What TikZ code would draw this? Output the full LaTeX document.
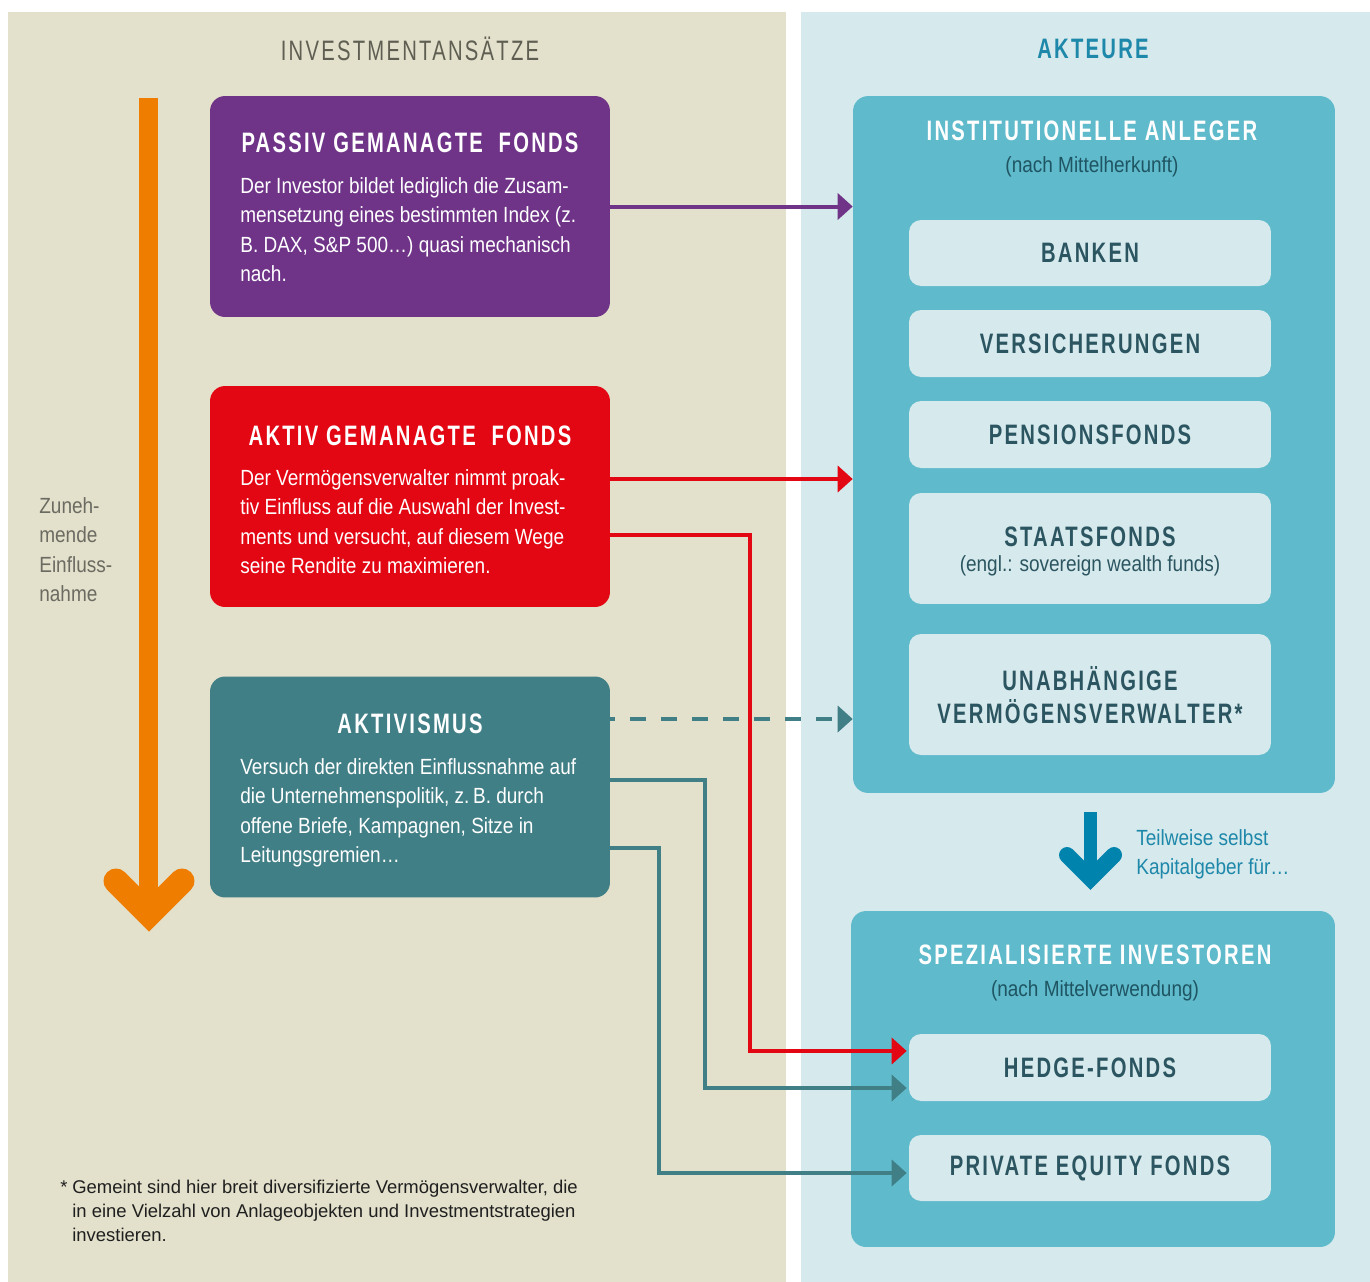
\documentclass[tikz,border=0pt]{standalone}
\usepackage{fontspec}
\setmainfont{Liberation Sans}[FakeStretch=0.865]
\newfontfamily\headfont{Liberation Sans}[FakeStretch=0.72,LetterSpace=8]
\newfontfamily\notefont{Liberation Sans}[FakeStretch=1.0]
\usetikzlibrary{arrows.meta}

\definecolor{beige}{HTML}{E3E0CB}
\definecolor{lightbg}{HTML}{D6E9EC}
\definecolor{instblue}{HTML}{5FBACB}
\definecolor{passivc}{HTML}{6F3488}
\definecolor{aktivc}{HTML}{E30613}
\definecolor{tealc}{HTML}{417F86}
\definecolor{orangeA}{HTML}{EF7D00}
\definecolor{arrowblue}{HTML}{0083AD}
\definecolor{textblue}{HTML}{1E88AA}
\definecolor{headgray}{HTML}{5E5E52}
\definecolor{sidegray}{HTML}{6B6B62}
\definecolor{innertext}{HTML}{2B5560}
\definecolor{subtext}{HTML}{1F5563}

\tikzset{
  fbox/.style={rounded corners=0.3cm, minimum width=8cm, minimum height=4.42cm, inner sep=0pt},
  abox/.style={fill=instblue, rounded corners=0.3cm, inner sep=0pt},
  ibox/.style={fill=lightbg, rounded corners=0.24cm, minimum width=7.24cm, inner sep=0pt,
    text=innertext, font=\headfont\bfseries\fontsize{16}{18}\selectfont},
  title/.style={font=\headfont\fontsize{16}{18}\selectfont, inner sep=0pt},
  head/.style={font=\headfont\bfseries\fontsize{16}{18}\selectfont, text=white, inner sep=0pt},
  ihead/.style={head, text=innertext},
  sub/.style={font=\fontsize{12.5}{16.8}\selectfont, text=subtext, inner sep=0pt},
  body/.style={font=\fontsize{12.5}{16.8}\selectfont, text=white, align=left,
    anchor=north west, inner sep=0pt},
  side/.style={body, text=sidegray},
  note/.style={font=\notefont\fontsize{10.5}{13.6}\selectfont, align=left, anchor=north west,
    inner sep=0pt, text=black!88},
  link/.style={line width=0.08cm, -{Triangle[length=0.3cm,width=0.52cm]}},
}

\begin{document}
\begin{tikzpicture}[x=0.02cm,y=-0.02cm]
% panels
\fill[white] (0,0) rectangle (1370,1282);
\fill[beige] (8,12) rectangle (786,1282);
\fill[lightbg] (801,12) rectangle (1370,1282);

\node[title, text=headgray] (ansaetze) at (410,49) {INVESTMENTANSÄTZE};
\node[title, text=textblue] (akteure) at (1093,49) {\bfseries AKTEURE};

% zunehmende Einflussnahme
\draw[orangeA, line width=0.38cm] (148.5,98) -- (148.5,905);
\draw[orangeA, line width=0.5cm, line cap=round] (116,881) -- (149,914) -- (182,881);
\node[side] (zunehmend) at (39,497) {Zuneh-\\mende\\Einfluss-\\nahme};

% investmentansaetze
\node[fbox, fill=passivc] (passiv) at (410,206.5) {};
\node[head] (passivhead) at (410,143) {PASSIV GEMANAGTE \ FONDS};
\node[body] (passivtext) at (240,177) {Der Investor bildet lediglich die Zusam-\\
  mensetzung eines bestimmten Index (z.\\
  B. DAX, S\&P 500…) quasi mechanisch\\
  nach.};

\node[fbox, fill=aktivc] (aktiv) at (410,496.5) {};
\node[head] (aktivhead) at (410,436) {AKTIV GEMANAGTE \ FONDS};
\node[body] (aktivtext) at (240,469) {Der Vermögensverwalter nimmt proak-\\
  tiv Einfluss auf die Auswahl der Invest-\\
  ments und versucht, auf diesem Wege\\
  seine Rendite zu maximieren.};

\node[fbox, fill=tealc] (aktivismus) at (410,787) {};
\node[head] (aktivismushead) at (410,724) {AKTIVISMUS};
\node[body] (aktivismustext) at (240,758) {Versuch der direkten Einflussnahme auf\\
  die Unternehmenspolitik, z.\,B. durch\\
  offene Briefe, Kampagnen, Sitze in\\
  Leitungsgremien…};

% akteure
\node[abox, minimum width=9.64cm, minimum height=13.94cm] (inst) at (1094,444.5) {};
\node[head] (insthead) at (1092,131) {INSTITUTIONELLE ANLEGER};
\node[sub] (instsub) at (1092,167) {(nach Mittelherkunft)};
\node[ibox, minimum height=1.32cm] (banken) at (1090,253) {BANKEN};
\node[ibox, minimum height=1.34cm] (versich) at (1090,343.5) {VERSICHERUNGEN};
\node[ibox, minimum height=1.34cm] (pension) at (1090,434.5) {PENSIONSFONDS};
\node[ibox, minimum height=2.22cm] (staats) at (1090,548.5) {};
\node[ihead] (staatshead) at (1090,537) {STAATSFONDS};
\node[sub, text=innertext] (staatssub) at (1090,566) {(engl.: sovereign wealth funds)};
\node[ibox, minimum height=2.42cm] (unabh) at (1090,694.5) {};
\node[ihead] (unabhhead) at (1090,679) {UNABHÄNGIGE};
\node[ihead] (unabhhead2) at (1090,712) {VERMÖGENSVERWALTER*};

% teilweise selbst kapitalgeber
\draw[arrowblue, line width=0.26cm] (1090.5,812) -- (1090.5,875);
\draw[arrowblue, line width=0.32cm, line cap=round] (1067,855) -- (1090.5,878.5) -- (1114,855);
\node[body, text=textblue] (teilweise) at (1136,829) {Teilweise selbst\\Kapitalgeber für…};

\node[abox, minimum width=9.68cm, minimum height=6.72cm] (spez) at (1093,1079) {};
\node[head] (spezhead) at (1095,955) {SPEZIALISIERTE INVESTOREN};
\node[sub] (spezsub) at (1095,991) {(nach Mittelverwendung)};
\node[ibox, minimum height=1.34cm] (hedge) at (1090,1067.5) {HEDGE-FONDS};
\node[ibox, minimum height=1.32cm] (private) at (1090,1168) {PRIVATE EQUITY FONDS};

% verbindungen
\draw[link, passivc] (passiv.east) -- (passiv.east -| inst.west);
\draw[link, tealc, dash pattern=on 0.32cm off 0.3cm, dash phase=0.22cm]
  ([yshift=1.36cm]aktivismus.east) -- ([yshift=1.36cm]aktivismus.east -| inst.west);
\draw[link, tealc] ([yshift=0.14cm]aktivismus.east) -- ++(95,0)
  |- ([xshift=-0.04cm,yshift=-0.41cm]hedge.west);
\draw[link, tealc] ([yshift=-1.22cm]aktivismus.east) -- ++(49,0)
  |- ([xshift=-0.04cm,yshift=-0.1cm]private.west);
\draw[link, aktivc] ([yshift=0.35cm]aktiv.east) -- ([yshift=0.35cm]aktiv.east -| inst.west);
\draw[link, aktivc] ([yshift=-0.77cm]aktiv.east) -- ++(140,0)
  |- ([xshift=-0.04cm,yshift=0.33cm]hedge.west);

% fussnote
\node[note] (stern) at (60,1180) {*};
\node[note] (fussnote) at (72,1180) {Gemeint sind hier breit diversifizierte Vermögensverwalter, die\\
  in eine Vielzahl von Anlageobjekten und Investmentstrategien\\
  investieren.};
\end{tikzpicture}
\end{document}
